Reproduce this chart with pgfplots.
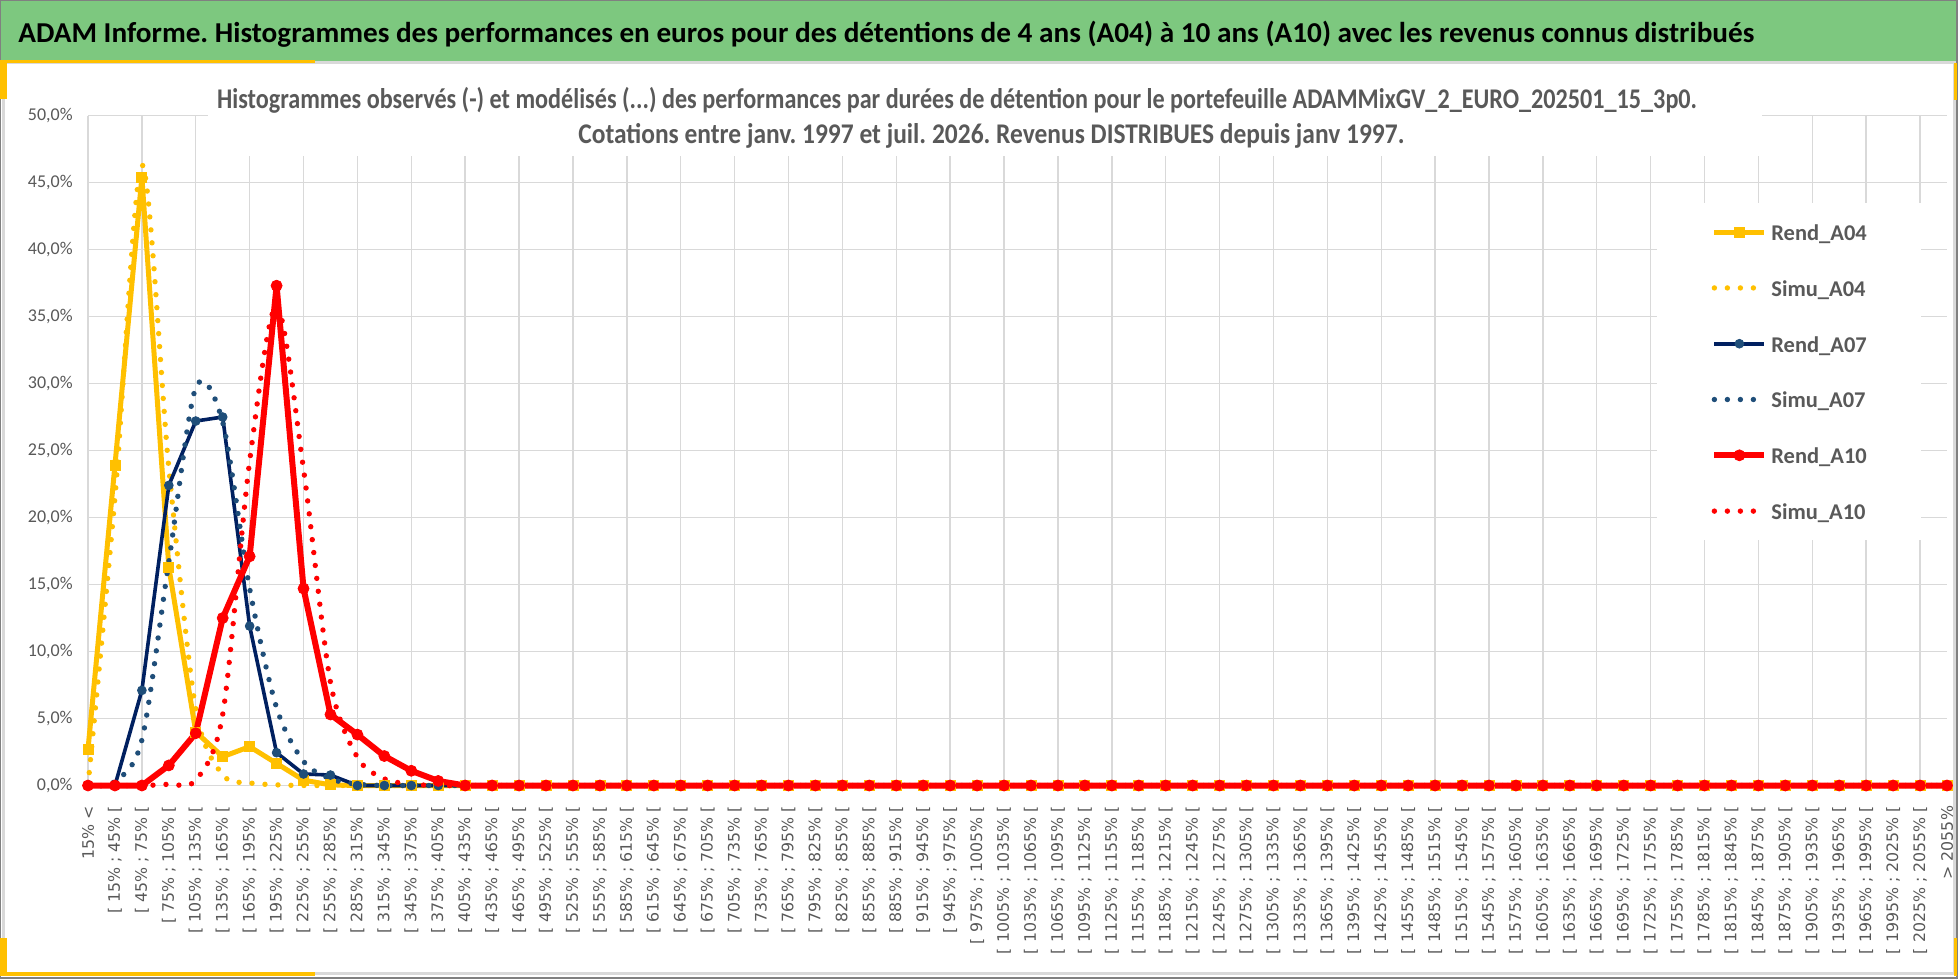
\documentclass[border=0pt]{standalone}
\usepackage{pgfplots}
\pgfplotsset{compat=1.18}
\usepackage{pgfplotstable}
\usepackage{fontspec}
\usepackage{graphicx}
\setmainfont{Carlito}
\newfontfamily\dejavu{DejaVu Sans}
\frenchspacing

\definecolor{cYel}{HTML}{FFC000}
\definecolor{cNavy}{HTML}{002060}
\definecolor{cBlue}{HTML}{1F4E79}
\definecolor{cRed}{HTML}{FF0000}
\definecolor{cGreen}{RGB}{125,200,127}
\definecolor{cTxt}{HTML}{595959}
\definecolor{cGrid}{HTML}{D9D9D9}

\pgfplotstableread{
x RA04 SA04 RA07 SA07 RA10 SA10
0 2.7 0 0 0 0 0
1 23.9 21.5 0 0.3 0 0
2 45.4 46.3 7.1 3.4 0 0
3 16.3 23.7 22.4 16.7 1.5 0.1
4 4.0 5.7 27.2 29.7 3.9 0.4
5 2.15 0.8 27.5 27.1 12.5 5.3
6 2.9 0.2 11.9 14.7 17.1 24.2
7 1.65 0.05 2.45 5.8 37.3 35.8
8 0.4 0 0.86 1.8 14.7 23.6
9 0.05 0 0.78 0.5 5.3 7.7
10 0 0 0 0.1 3.8 2.1
11 0 0 0 0 2.2 0.5
12 0 0 0 0 1.1 0.1
13 0 0 0 0 0.34 0
14 0 0 0 0 0 0
15 0 0 0 0 0 0
16 0 0 0 0 0 0
17 0 0 0 0 0 0
18 0 0 0 0 0 0
19 0 0 0 0 0 0
20 0 0 0 0 0 0
21 0 0 0 0 0 0
22 0 0 0 0 0 0
23 0 0 0 0 0 0
24 0 0 0 0 0 0
25 0 0 0 0 0 0
26 0 0 0 0 0 0
27 0 0 0 0 0 0
28 0 0 0 0 0 0
29 0 0 0 0 0 0
30 0 0 0 0 0 0
31 0 0 0 0 0 0
32 0 0 0 0 0 0
33 0 0 0 0 0 0
34 0 0 0 0 0 0
35 0 0 0 0 0 0
36 0 0 0 0 0 0
37 0 0 0 0 0 0
38 0 0 0 0 0 0
39 0 0 0 0 0 0
40 0 0 0 0 0 0
41 0 0 0 0 0 0
42 0 0 0 0 0 0
43 0 0 0 0 0 0
44 0 0 0 0 0 0
45 0 0 0 0 0 0
46 0 0 0 0 0 0
47 0 0 0 0 0 0
48 0 0 0 0 0 0
49 0 0 0 0 0 0
50 0 0 0 0 0 0
51 0 0 0 0 0 0
52 0 0 0 0 0 0
53 0 0 0 0 0 0
54 0 0 0 0 0 0
55 0 0 0 0 0 0
56 0 0 0 0 0 0
57 0 0 0 0 0 0
58 0 0 0 0 0 0
59 0 0 0 0 0 0
60 0 0 0 0 0 0
61 0 0 0 0 0 0
62 0 0 0 0 0 0
63 0 0 0 0 0 0
64 0 0 0 0 0 0
65 0 0 0 0 0 0
66 0 0 0 0 0 0
67 0 0 0 0 0 0
68 0 0 0 0 0 0
69 0 0 0 0 0 0
}\data

\begin{document}
\begin{tikzpicture}
\path[use as bounding box] (0,0) rectangle (979bp,-489.5bp);
\begin{scope}[x=0.5bp,y=-0.5bp]
\fill[white] (0,0) rectangle (1958,979);
\fill[cGreen] (0,0) rectangle (1958,61);
\draw[cGrid, line width=1.5bp] (3.5,62.5) rectangle (1954.5,974);
\draw[gray, line width=0.75bp] (0.75,0.75) rectangle (1957.25,978.25);
\fill[cYel] (0,60.5) rectangle (315,63.5);
\fill[cYel] (0,60.5) rectangle (7,99);
\fill[cYel] (0,938) rectangle (7,976);
\fill[cYel] (0,972.5) rectangle (315,976);
\fill[cYel] (1954.5,63) rectangle (1957.5,100);
\fill[cYel] (1954.5,938) rectangle (1957.5,976);
\node[anchor=base west, inner sep=0pt, font=\bfseries\fontsize{14.4bp}{16bp}\selectfont, text=black] at (18,42.7)
  {\resizebox{868bp}{\height}{ADAM Informe. Histogrammes des performances en euros pour des détentions de 4 ans (A04) à 10 ans (A10) avec les revenus connus distribués}};
\end{scope}

\begin{axis}[
  at={(44bp,-392.75bp)}, anchor=south west,
  scale only axis, width=929.5bp, height=335bp,
  xmin=0, xmax=69, ymin=0, ymax=50,
  clip=false,
  axis line style={draw=none},
  major tick length=0pt,
  ytick={0,5,...,50},
  yticklabels={{0,0\%},{5,0\%},{10,0\%},{15,0\%},{20,0\%},{25,0\%},{30,0\%},{35,0\%},{40,0\%},{45,0\%},{50,0\%}},
  ymajorgrids,
  grid style={cGrid, line width=0.7bp},
  yticklabel style={font=\fontsize{9bp}{10bp}\selectfont, text=cTxt, inner sep=0pt},
  yticklabel shift=7.5bp,
  xtick={0,...,69},
  xticklabels={{15\% <},{[ 15\% ; 45\% [},{[ 45\% ; 75\% [},{[ 75\% ; 105\% [},{[ 105\% ; 135\% [},{[ 135\% ; 165\% [},{[ 165\% ; 195\% [},{[ 195\% ; 225\% [},{[ 225\% ; 255\% [},{[ 255\% ; 285\% [},{[ 285\% ; 315\% [},{[ 315\% ; 345\% [},{[ 345\% ; 375\% [},{[ 375\% ; 405\% [},{[ 405\% ; 435\% [},{[ 435\% ; 465\% [},{[ 465\% ; 495\% [},{[ 495\% ; 525\% [},{[ 525\% ; 555\% [},{[ 555\% ; 585\% [},{[ 585\% ; 615\% [},{[ 615\% ; 645\% [},{[ 645\% ; 675\% [},{[ 675\% ; 705\% [},{[ 705\% ; 735\% [},{[ 735\% ; 765\% [},{[ 765\% ; 795\% [},{[ 795\% ; 825\% [},{[ 825\% ; 855\% [},{[ 855\% ; 885\% [},{[ 885\% ; 915\% [},{[ 915\% ; 945\% [},{[ 945\% ; 975\% [},{[ 975\% ; 1005\% [},{[ 1005\% ; 1035\% [},{[ 1035\% ; 1065\% [},{[ 1065\% ; 1095\% [},{[ 1095\% ; 1125\% [},{[ 1125\% ; 1155\% [},{[ 1155\% ; 1185\% [},{[ 1185\% ; 1215\% [},{[ 1215\% ; 1245\% [},{[ 1245\% ; 1275\% [},{[ 1275\% ; 1305\% [},{[ 1305\% ; 1335\% [},{[ 1335\% ; 1365\% [},{[ 1365\% ; 1395\% [},{[ 1395\% ; 1425\% [},{[ 1425\% ; 1455\% [},{[ 1455\% ; 1485\% [},{[ 1485\% ; 1515\% [},{[ 1515\% ; 1545\% [},{[ 1545\% ; 1575\% [},{[ 1575\% ; 1605\% [},{[ 1605\% ; 1635\% [},{[ 1635\% ; 1665\% [},{[ 1665\% ; 1695\% [},{[ 1695\% ; 1725\% [},{[ 1725\% ; 1755\% [},{[ 1755\% ; 1785\% [},{[ 1785\% ; 1815\% [},{[ 1815\% ; 1845\% [},{[ 1845\% ; 1875\% [},{[ 1875\% ; 1905\% [},{[ 1905\% ; 1935\% [},{[ 1935\% ; 1965\% [},{[ 1965\% ; 1995\% [},{[ 1995\% ; 2025\% [},{[ 2025\% ; 2055\% [},{> 2055\%}},
  xticklabel style={font=\dejavu\fontsize{7.9bp}{9bp}\selectfont, text=cTxt, rotate=90, anchor=east, inner sep=0pt},
  xticklabel shift=10bp,
  extra x ticks={0,2,...,68},
  extra x tick labels={},
  extra x tick style={grid=major},
  legend image code/.code={\draw[mark repeat=2,mark phase=2,#1] plot coordinates {(0bp,0bp) (12.5bp,0bp) (25bp,0bp)};},
  legend cell align=left,
  legend style={at={(0.844,0.8694)}, anchor=north west, draw=none, fill=white,
    inner xsep=27bp, inner ysep=8.5bp, row sep=16.2bp, column sep=2bp,
    font=\bfseries\fontsize{11.25bp}{13bp}\selectfont, text=cTxt,
    nodes={inner sep=0pt, text height=10bp, text depth=1.7bp}},
]
\addplot[cYel, line width=2.5bp, mark=square*, mark size=2.5bp, mark options={solid, fill=cYel, line width=0.4bp}] table[x=x,y=RA04]{\data};
\addplot[cYel, line width=2.7bp, smooth, line cap=round, dash pattern=on 0pt off 6.5bp] table[x=x,y=SA04]{\data};
\addplot[cNavy, line width=1.8bp, mark=*, mark size=2.2bp, mark options={solid, fill=cBlue, draw=cBlue, line width=0.4bp}] table[x=x,y=RA07]{\data};
\addplot[cBlue, line width=2.7bp, smooth, line cap=round, dash pattern=on 0pt off 6.5bp] table[x=x,y=SA07]{\data};
\addplot[cRed, line width=3bp, mark=*, mark size=2.75bp, mark options={solid, fill=cRed, line width=0.4bp}] table[x=x,y=RA10]{\data};
\addplot[cRed, line width=2.7bp, smooth, line cap=round, dash pattern=on 0pt off 6.5bp] table[x=x,y=SA10]{\data};
\legend{Rend\_A04, Simu\_A04, Rend\_A07, Simu\_A07, Rend\_A10, Simu\_A10}
\end{axis}

\begin{scope}[x=0.5bp,y=-0.5bp]
\fill[white] (208,100) rectangle (1762,156);
\node[anchor=base west, inner sep=0pt, font=\bfseries\fontsize{14.25bp}{16bp}\selectfont, text=cTxt] at (216.7,108.7)
  {\resizebox{740bp}{\height}{Histogrammes observés (-) et modélisés (...) des performances par durées de détention pour le portefeuille ADAMMixGV\_2\_EURO\_202501\_15\_3p0.}};
\node[anchor=base west, inner sep=0pt, font=\bfseries\fontsize{14.25bp}{16bp}\selectfont, text=cTxt] at (578,143.3)
  {\resizebox{413bp}{\height}{Cotations entre janv. 1997 et juil. 2026. Revenus DISTRIBUES depuis janv 1997.}};
\end{scope}
\end{tikzpicture}
\end{document}
